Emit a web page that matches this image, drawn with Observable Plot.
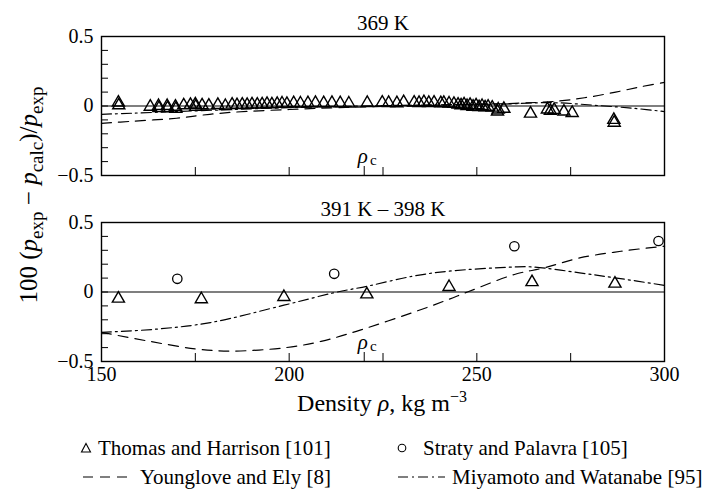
<!DOCTYPE html>
<html><head><meta charset="utf-8">
<script src="https://cdn.jsdelivr.net/npm/d3@7"></script>
<script src="https://cdn.jsdelivr.net/npm/@observablehq/plot@0.6"></script>
<style>
body{margin:0;background:#fff;}
#wrap{position:relative;width:714px;height:496px;font-family:"Liberation Serif","Times New Roman",serif;color:#000;background:#fff;overflow:hidden;}
#chart{position:absolute;left:0;top:0;}
.ylab{position:absolute;left:31px;top:195px;transform:translate(-50%,-50%) rotate(-90deg);white-space:nowrap;font-size:25px;}
.xlab{position:absolute;left:382px;top:402px;transform:translate(-50%,-50%);white-space:nowrap;font-size:24px;}
.ylab sub{font-size:19px;vertical-align:-6px;}
.xlab sup{font-size:16px;}
.lt{position:absolute;white-space:nowrap;font-size:21px;transform:translateY(-50%);}
.lm{position:absolute;display:block;transform:translateY(-50%);}
</style></head><body>
<div id="wrap">
  <div id="chart"></div>
  <div class="ylab">100 (<i>p</i><sub>exp</sub> − <i>p</i><sub>calc</sub>)/<i>p</i><sub>exp</sub></div>
  <div class="xlab">Density <i>ρ</i>, kg m<sup>−3</sup></div>
  <svg class="lm" style="left:80px;top:448px" width="12" height="12"><path d="M6,1.5 L10.5,10 L1.5,10 Z" fill="none" stroke="#000" stroke-width="1.1"/></svg>
  <span class="lt" style="left:98px;top:448px">Thomas and Harrison [101]</span>
  <svg class="lm" style="left:396px;top:448px" width="12" height="12"><circle cx="6" cy="6" r="3.8" fill="none" stroke="#000" stroke-width="1.1"/></svg>
  <span class="lt" style="left:423px;top:448px">Straty and Palavra [105]</span>
  <svg class="lm" style="left:83px;top:477px" width="44" height="8"><line x1="0" y1="4" x2="44" y2="4" stroke="#000" stroke-width="1.1" stroke-dasharray="10,7"/></svg>
  <span class="lt" style="left:140px;top:477px">Younglove and Ely [8]</span>
  <svg class="lm" style="left:398px;top:477px" width="47" height="8"><line x1="0" y1="4" x2="47" y2="4" stroke="#000" stroke-width="1.1" stroke-dasharray="10,4,2,4"/></svg>
  <span class="lt" style="left:452px;top:477px">Miyamoto and Watanabe [95]</span>
</div>
<script>
// Panels (facet titles)
const panels = ["369 K", "391 K – 398 K"];
const rhoC = 220;
const xTicks = [150, 175, 200, 225, 250, 275, 300];
const xTickLabels = [150, 200, 250, 300];
const yTicks = [-0.5, -0.4, -0.3, -0.2, -0.1, 0, 0.1, 0.2, 0.3, 0.4, 0.5];
const yTickLabels = [-0.5, 0, 0.5];

// 369 K — Thomas and Harrison [101]
const th369Rho = [154.5,154.6,163.0,165.2,165.3,167.5,167.6,169.7,169.8,171.9,173.7,175.0,175.1,176.8,178.6,181.0,183.0,184.8,186.1,187.5,188.8,190.1,191.5,192.8,194.1,195.4,196.8,198.1,199.4,201.2,203.0,205.0,207.0,209.2,211.4,213.6,215.9,220.8,224.8,226.5,228.7,230.5,233.3,234.6,235.9,237.2,238.6,240.4,241.2,242.6,243.9,245.0,245.8,246.6,247.4,248.2,249.0,249.8,250.6,251.4,252.2,253.0,254.1,255.5,255.7,257.2,264.3,268.8,269.6,270.6,273.2,275.4,286.5,286.6];
const th369Dev = [0.025,0.005,-0.005,0.0,-0.015,0.0,-0.015,-0.005,-0.02,0.005,0.008,0.012,-0.005,0.005,0.003,0.008,0.0,0.01,0.006,0.01,0.008,0.012,0.01,0.012,0.015,0.012,0.015,0.018,0.015,0.02,0.018,0.02,0.022,0.02,0.022,0.02,0.018,0.022,0.025,0.022,0.02,0.028,0.025,0.022,0.028,0.022,0.025,0.02,0.022,0.018,0.015,0.01,0.005,0.012,0.0,0.008,-0.005,0.005,-0.008,0.0,-0.01,-0.005,-0.012,-0.04,-0.025,-0.02,-0.055,-0.025,-0.035,-0.028,-0.04,-0.05,-0.1,-0.12];

// 369 K — Younglove and Ely [8]
const ye369Rho = [150,158,170,177,185,200,215,230,245,260,272,280,287,294,300];
const ye369Dev = [-0.125,-0.11,-0.088,-0.065,-0.045,-0.025,-0.01,0.0,0.01,0.019,0.036,0.065,0.1,0.14,0.17];
// 369 K — Miyamoto and Watanabe [95]
const mw369Rho = [150,158,170,185,200,215,230,245,257,270,283,292,300];
const mw369Dev = [-0.06,-0.052,-0.04,-0.025,-0.012,-0.003,0.005,0.01,0.014,0.024,0.002,-0.017,-0.04];

// 391 K – 398 K — Thomas and Harrison [101]
const th391Rho = [154.5,176.6,198.6,220.7,242.6,264.7,286.8];
const th391Dev = [-0.048,-0.052,-0.036,-0.017,0.036,0.071,0.06];
// 391 K – 398 K — Straty and Palavra [105]
const sp391Rho = [170.2,212.0,260.0,298.4];
const sp391Dev = [0.095,0.131,0.329,0.367];
// 391 K – 398 K — Younglove and Ely [8]
const ye391Rho = [150,162.8,175.3,184.6,199.2,208.5,217.9,235.4,242.6,247.5,260,268,277.4,288.4,300];
const ye391Dev = [-0.29,-0.355,-0.41,-0.425,-0.40,-0.355,-0.283,-0.124,-0.052,0.0,0.126,0.174,0.245,0.293,0.33];
// 391 K – 398 K — Miyamoto and Watanabe [95]
const mw391Rho = [150,164.7,179,198.6,212,221,233,242.6,260,265,277.4,287.3,300];
const mw391Dev = [-0.29,-0.267,-0.22,-0.095,-0.005,0.043,0.114,0.15,0.18,0.18,0.138,0.10,0.048];

const rows = (xs, ys, panel) => xs.map((x, i) => ({x, y: ys[i], panel}));
const th = [...rows(th369Rho, th369Dev, panels[0]), ...rows(th391Rho, th391Dev, panels[1])];
const sp = rows(sp391Rho, sp391Dev, panels[1]);
const ye = [...rows(ye369Rho, ye369Dev, panels[0]), ...rows(ye391Rho, ye391Dev, panels[1])];
const mw = [...rows(mw369Rho, mw369Dev, panels[0]), ...rows(mw391Rho, mw391Dev, panels[1])];

const fmt = d => d === 0 ? "0" : (d < 0 ? "−" : "") + Math.abs(d);
const FF = "Liberation Serif, Times New Roman, serif";

const chart = Plot.plot({
  width: 714, height: 420,
  marginTop: 35, marginBottom: 58, marginLeft: 101, marginRight: 50,
  style: {fontFamily: FF, fontSize: "20px", background: "white", color: "black"},
  x: {domain: [150, 300]},
  y: {domain: [-0.5, 0.5]},
  fy: {domain: panels, paddingInner: 0.2513, paddingOuter: 0, axis: null, label: null},
  marks: [
    Plot.ruleY([0], {stroke: "black", strokeWidth: 1.2}),
    Plot.line(ye, {x: "x", y: "y", fy: "panel", z: "panel", stroke: "black", strokeWidth: 1.2, strokeDasharray: "10,7", curve: "catmull-rom"}),
    Plot.line(mw, {x: "x", y: "y", fy: "panel", z: "panel", stroke: "black", strokeWidth: 1.2, strokeDasharray: "10,4,2,4", curve: "catmull-rom"}),
    Plot.dot(th, {x: "x", y: "y", fy: "panel", symbol: "triangle", r: 4.5, stroke: "black", strokeWidth: 1.4, fill: "none"}),
    Plot.dot(sp, {x: "x", y: "y", fy: "panel", symbol: "circle", r: 4.7, stroke: "black", strokeWidth: 1.3, fill: "none"}),
    Plot.frame({stroke: "black", strokeWidth: 1.4}),
    Plot.axisX(xTicks, {tickSize: -8, tickFormat: () => "", label: null, facetAnchor: null}),
    Plot.axisX([rhoC], {tickSize: -9, tickFormat: () => "", label: null, facetAnchor: null}),
    Plot.axisX(xTickLabels, {tickSize: 0, tickPadding: 5, tickFormat: d => String(d), label: null, fontSize: 20, fontFamily: FF}),
    Plot.axisY(yTicks, {tickSize: -7, tickFormat: () => "", label: null}),
    Plot.axisY(yTickLabels, {tickSize: 0, tickPadding: 8, tickFormat: fmt, label: null, fontSize: 20, fontFamily: FF}),
    Plot.text(panels, {fy: d => d, text: d => d, frameAnchor: "top", lineAnchor: "middle", dy: -13, fontSize: 21, fontFamily: FF}),
    Plot.text([rhoC], {x: d => d, frameAnchor: "bottom", lineAnchor: "middle", dy: -19, dx: -1.5, text: () => "ρ", fontStyle: "italic", fontSize: 21, fontFamily: FF}),
    Plot.text([rhoC], {x: d => d, frameAnchor: "bottom", lineAnchor: "middle", dy: -15, dx: 9, text: () => "c", fontSize: 15, fontFamily: FF})
  ]
});
document.getElementById("chart").appendChild(chart);
</script>
</body></html>
